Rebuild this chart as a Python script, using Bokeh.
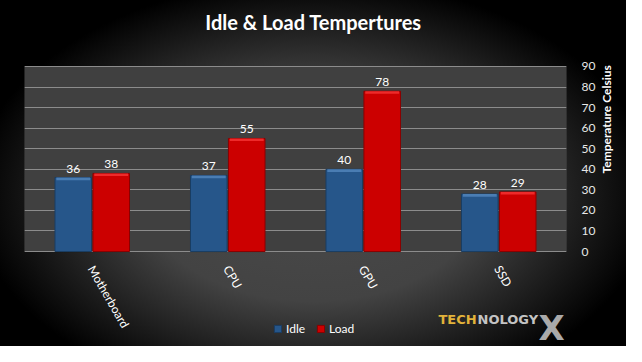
from bokeh.plotting import figure
from bokeh.models import FactorRange, Range1d, ColumnDataSource, Legend, LegendItem, Label, BoxAnnotation
from bokeh.transform import dodge
from bokeh.embed import file_html
from bokeh.resources import INLINE
from bokeh.core.properties import value
import math

categories = ["Motherboard", "CPU", "GPU", "SSD"]
idle = [36, 37, 40, 28]
load = [38, 55, 78, 29]
series_names = ["Idle", "Load"]
y_ticks = [0, 10, 20, 30, 40, 50, 60, 70, 80, 90]
title_text = "Idle & Load Tempertures"
axis_title = "Temperature Celsius"

FONT = "Lato"
W, H = 626, 346

src = ColumnDataSource(dict(
    cat=categories, idle=idle, load=load,
    zero=[0] * len(categories),
    idle_lbl=[str(v) for v in idle], load_lbl=[str(v) for v in load],
    idle_hl=[v - 1.3 for v in idle], load_hl=[v - 1.3 for v in load],
))

# frame spans the full height; the chart area is 0..90
p = figure(
    x_range=FactorRange(*categories, range_padding=0),
    y_range=Range1d(-46.2, 122.1),
    width=W, height=H,
    output_backend="svg", toolbar_location=None,
    y_axis_location="right",
    min_border_left=24, min_border_right=60, min_border_top=0, min_border_bottom=0,
)
p.styles = {"background-image": "radial-gradient(ellipse 340px 215px at 50% 56%, #4a4a4a 0%, #434343 50%, #000000 100%)",
            "background-color": "#000000"}
p.border_fill_color = None
p.background_fill_color = None
p.outline_line_color = None

p.add_layout(BoxAnnotation(bottom=0, top=90, fill_color="#404040", fill_alpha=1,
                           line_color="#8c8c8c", line_width=1, level="image"))

# title
p.add_layout(Label(x=289, y=325, x_units="screen", y_units="screen", text=title_text,
                   text_align="center", text_baseline="middle", text_color="#ffffff",
                   text_font=FONT, text_font_size="20px", text_font_style="bold"))

# grid
p.xgrid.grid_line_color = None
p.ygrid.grid_line_color = "#8c8c8c"
p.ygrid.grid_line_width = 1

# y axis (right)
p.yaxis.ticker = y_ticks
p.yaxis.bounds = (0, 90)
p.yaxis.axis_label = axis_title
p.yaxis.axis_label_orientation = math.pi / 2
p.yaxis.axis_label_text_color = "#ffffff"
p.yaxis.axis_label_text_font = FONT
p.yaxis.axis_label_text_font_size = "12px"
p.yaxis.axis_label_text_font_style = "bold"
p.yaxis.axis_label_standoff = 8
p.yaxis.major_label_text_color = "#e8e8e8"
p.yaxis.major_label_text_font = FONT
p.yaxis.major_label_text_font_size = "12px"
p.yaxis.major_label_standoff = 9
p.yaxis.axis_line_color = None
p.yaxis.major_tick_line_color = None
p.yaxis.minor_tick_line_color = None

p.xaxis.visible = False

bw = 0.27
off = 0.14
r_idle = p.vbar(x=dodge("cat", -off, range=p.x_range), top="idle", width=bw, source=src,
                fill_color="#26568a", line_color="#1a3d63", line_width=1)
p.vbar(x=dodge("cat", -off, range=p.x_range), top="idle", bottom="idle_hl", width=bw - 0.02, source=src,
       fill_color="#4a7db3", line_color=None)
r_load = p.vbar(x=dodge("cat", off, range=p.x_range), top="load", width=bw, source=src,
                fill_color="#cc0000", line_color="#8a0000", line_width=1)
p.vbar(x=dodge("cat", off, range=p.x_range), top="load", bottom="load_hl", width=bw - 0.02, source=src,
       fill_color="#ee2a2a", line_color=None)

p.text(x=dodge("cat", -off, range=p.x_range), y="idle", text="idle_lbl", source=src,
       text_align="center", text_baseline="bottom", y_offset=-5, text_color="#ffffff",
       text_font=value(FONT), text_font_size="12px")
p.text(x=dodge("cat", off, range=p.x_range), y="load", text="load_lbl", source=src,
       text_align="center", text_baseline="bottom", y_offset=-5, text_color="#ffffff",
       text_font=value(FONT), text_font_size="12px")

# category labels (rotated, below the chart area)
p.text(x="cat", y="zero", text="cat", source=src, angle=-math.pi / 3,
       text_align="left", text_baseline="middle", x_offset=-1, y_offset=15,
       text_color="#ffffff", text_font=value(FONT), text_font_size="12px")

legend = Legend(items=[LegendItem(label=series_names[0], renderers=[r_idle]),
                       LegendItem(label=series_names[1], renderers=[r_load])],
                orientation="horizontal", location=(249, 10))
legend.background_fill_alpha = 0
legend.border_line_color = None
legend.label_text_color = "#ffffff"
legend.label_text_font = FONT
legend.label_text_font_size = "12px"
legend.glyph_width = 9
legend.glyph_height = 9
legend.spacing = 10
legend.padding = 2
legend.margin = 0
legend.label_standoff = 4
p.add_layout(legend, "center")

# logo text
p.add_layout(Label(x=414, y=27, x_units="screen", y_units="screen", text="TECH", text_baseline="alphabetic",
                   text_color="#e2b33a", text_font="DejaVu Sans", text_font_size="13px", text_font_style="bold"))
p.add_layout(Label(x=453, y=27, x_units="screen", y_units="screen", text="NOLOGY", text_baseline="alphabetic",
                   text_color="#c4c4c4", text_font="DejaVu Sans", text_font_size="13px", text_font_style="bold"))
p.add_layout(Label(x=514, y=19, x_units="screen", y_units="screen", text="X", text_baseline="alphabetic",
                   text_color="#aaaaaa", text_font="DejaVu Sans", text_font_size="34px", text_font_style="bold"))

open("out.html", "w").write(file_html(p, INLINE))
